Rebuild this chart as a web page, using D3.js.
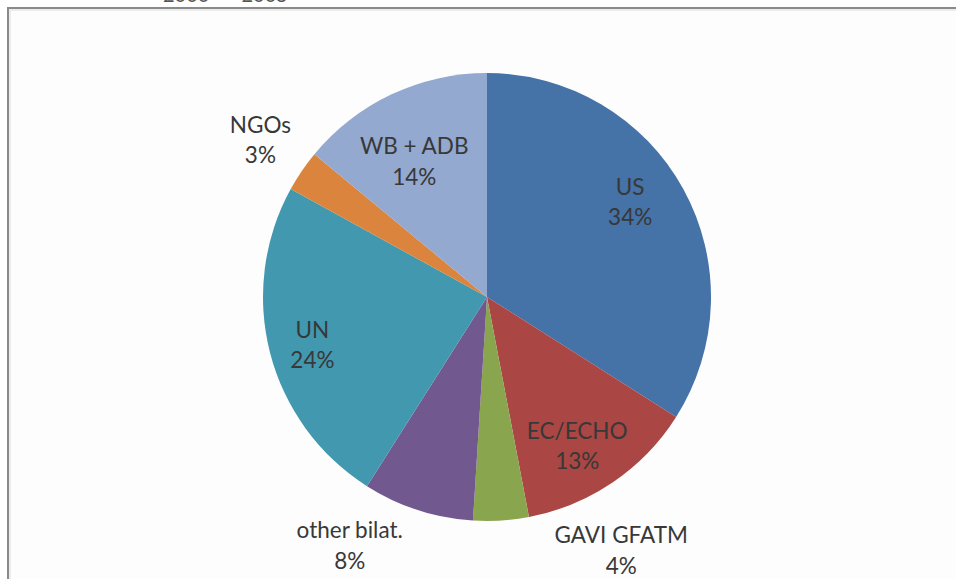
<!DOCTYPE html>
<html>
<head>
<meta charset="utf-8">
<script src="https://cdn.jsdelivr.net/npm/d3@7"></script>
<style>
  html, body { margin: 0; padding: 0; background: #ffffff; }
  svg { display: block; }
  text { font-family: Lato, "Open Sans", "DejaVu Sans", sans-serif; }
</style>
</head>
<body>
<svg id="chart" width="956" height="579"></svg>
<script>
const categories = ["US", "EC/ECHO", "GAVI GFATM", "other bilat.", "UN", "NGOs", "WB + ADB"];
const values = [34, 13, 4, 8, 24, 3, 14];
const colors = ["#4572A7", "#AA4643", "#89A54E", "#71588F", "#4198AF", "#DB843D", "#93A9CF"];
const title = "2000  \u2013  2005";

const svg = d3.select("#chart");
const W = 956, H = 579;

// frame
svg.append("rect").attr("x", 0).attr("y", 0).attr("width", W).attr("height", H).attr("fill", "#ffffff");
svg.append("rect").attr("x", 8).attr("y", 8).attr("width", W + 20).attr("height", H + 20)
  .attr("fill", "#fdfdfd").attr("stroke", "#8a8a8a").attr("stroke-width", 2);
svg.append("rect").attr("x", 10).attr("y", 10).attr("width", W + 20).attr("height", H + 20)
  .attr("fill", "none").attr("stroke", "#dcdcdc").attr("stroke-width", 1);

// clipped title (only bottoms visible, as in the reference)
svg.append("text").attr("x", 163).attr("y", 2)
  .attr("font-size", 20).attr("fill", "#555").style("white-space", "pre").text(title);

const cx = 487, cy = 297, r = 224;
const data = categories.map((c, i) => ({ name: c, value: values[i], color: colors[i] }));
const pie = d3.pie().sort(null).value(d => d.value);
const arcs = pie(data);
const arc = d3.arc().innerRadius(0).outerRadius(r);

const g = svg.append("g").attr("transform", `translate(${cx},${cy})`);
g.selectAll("path").data(arcs).enter().append("path")
  .attr("d", arc).attr("fill", d => d.data.color);

// label placement: radial distance (fraction of r) along slice bisector plus a nudge
const labelLayout = {
  "US":           { k: 0.77, dx: -8,  dy: -11 },
  "EC/ECHO":      { k: 0.78, dx: -8,  dy: 5 },
  "GAVI GFATM":   { k: 1.15, dx: 118, dy: -3 },
  "other bilat.": { k: 1.16, dx: -57, dy: 2 },
  "UN":           { k: 0.80, dx: -1,  dy: 4 },
  "NGOs":         { k: 1.25, dx: 5,   dy: 1 },
  "WB + ADB":     { k: 0.70, dx: -6,  dy: 7 }
};
function labelPos(d) {
  const a = (d.startAngle + d.endAngle) / 2;
  const L = labelLayout[d.data.name];
  const rr = r * L.k;
  return [Math.sin(a) * rr + L.dx, -Math.cos(a) * rr + L.dy];
}
const labels = g.selectAll("g.lab").data(arcs).enter().append("g").attr("class", "lab")
  .attr("transform", d => `translate(${labelPos(d)})`);
labels.append("text").attr("text-anchor", "middle").attr("y", -8)
  .attr("font-size", 22.5).attr("fill", "#383838").text(d => d.data.name);
labels.append("text").attr("text-anchor", "middle").attr("y", 22.5)
  .attr("font-size", 22.5).attr("fill", "#383838").text(d => d.data.value + "%");
</script>
</body>
</html>
